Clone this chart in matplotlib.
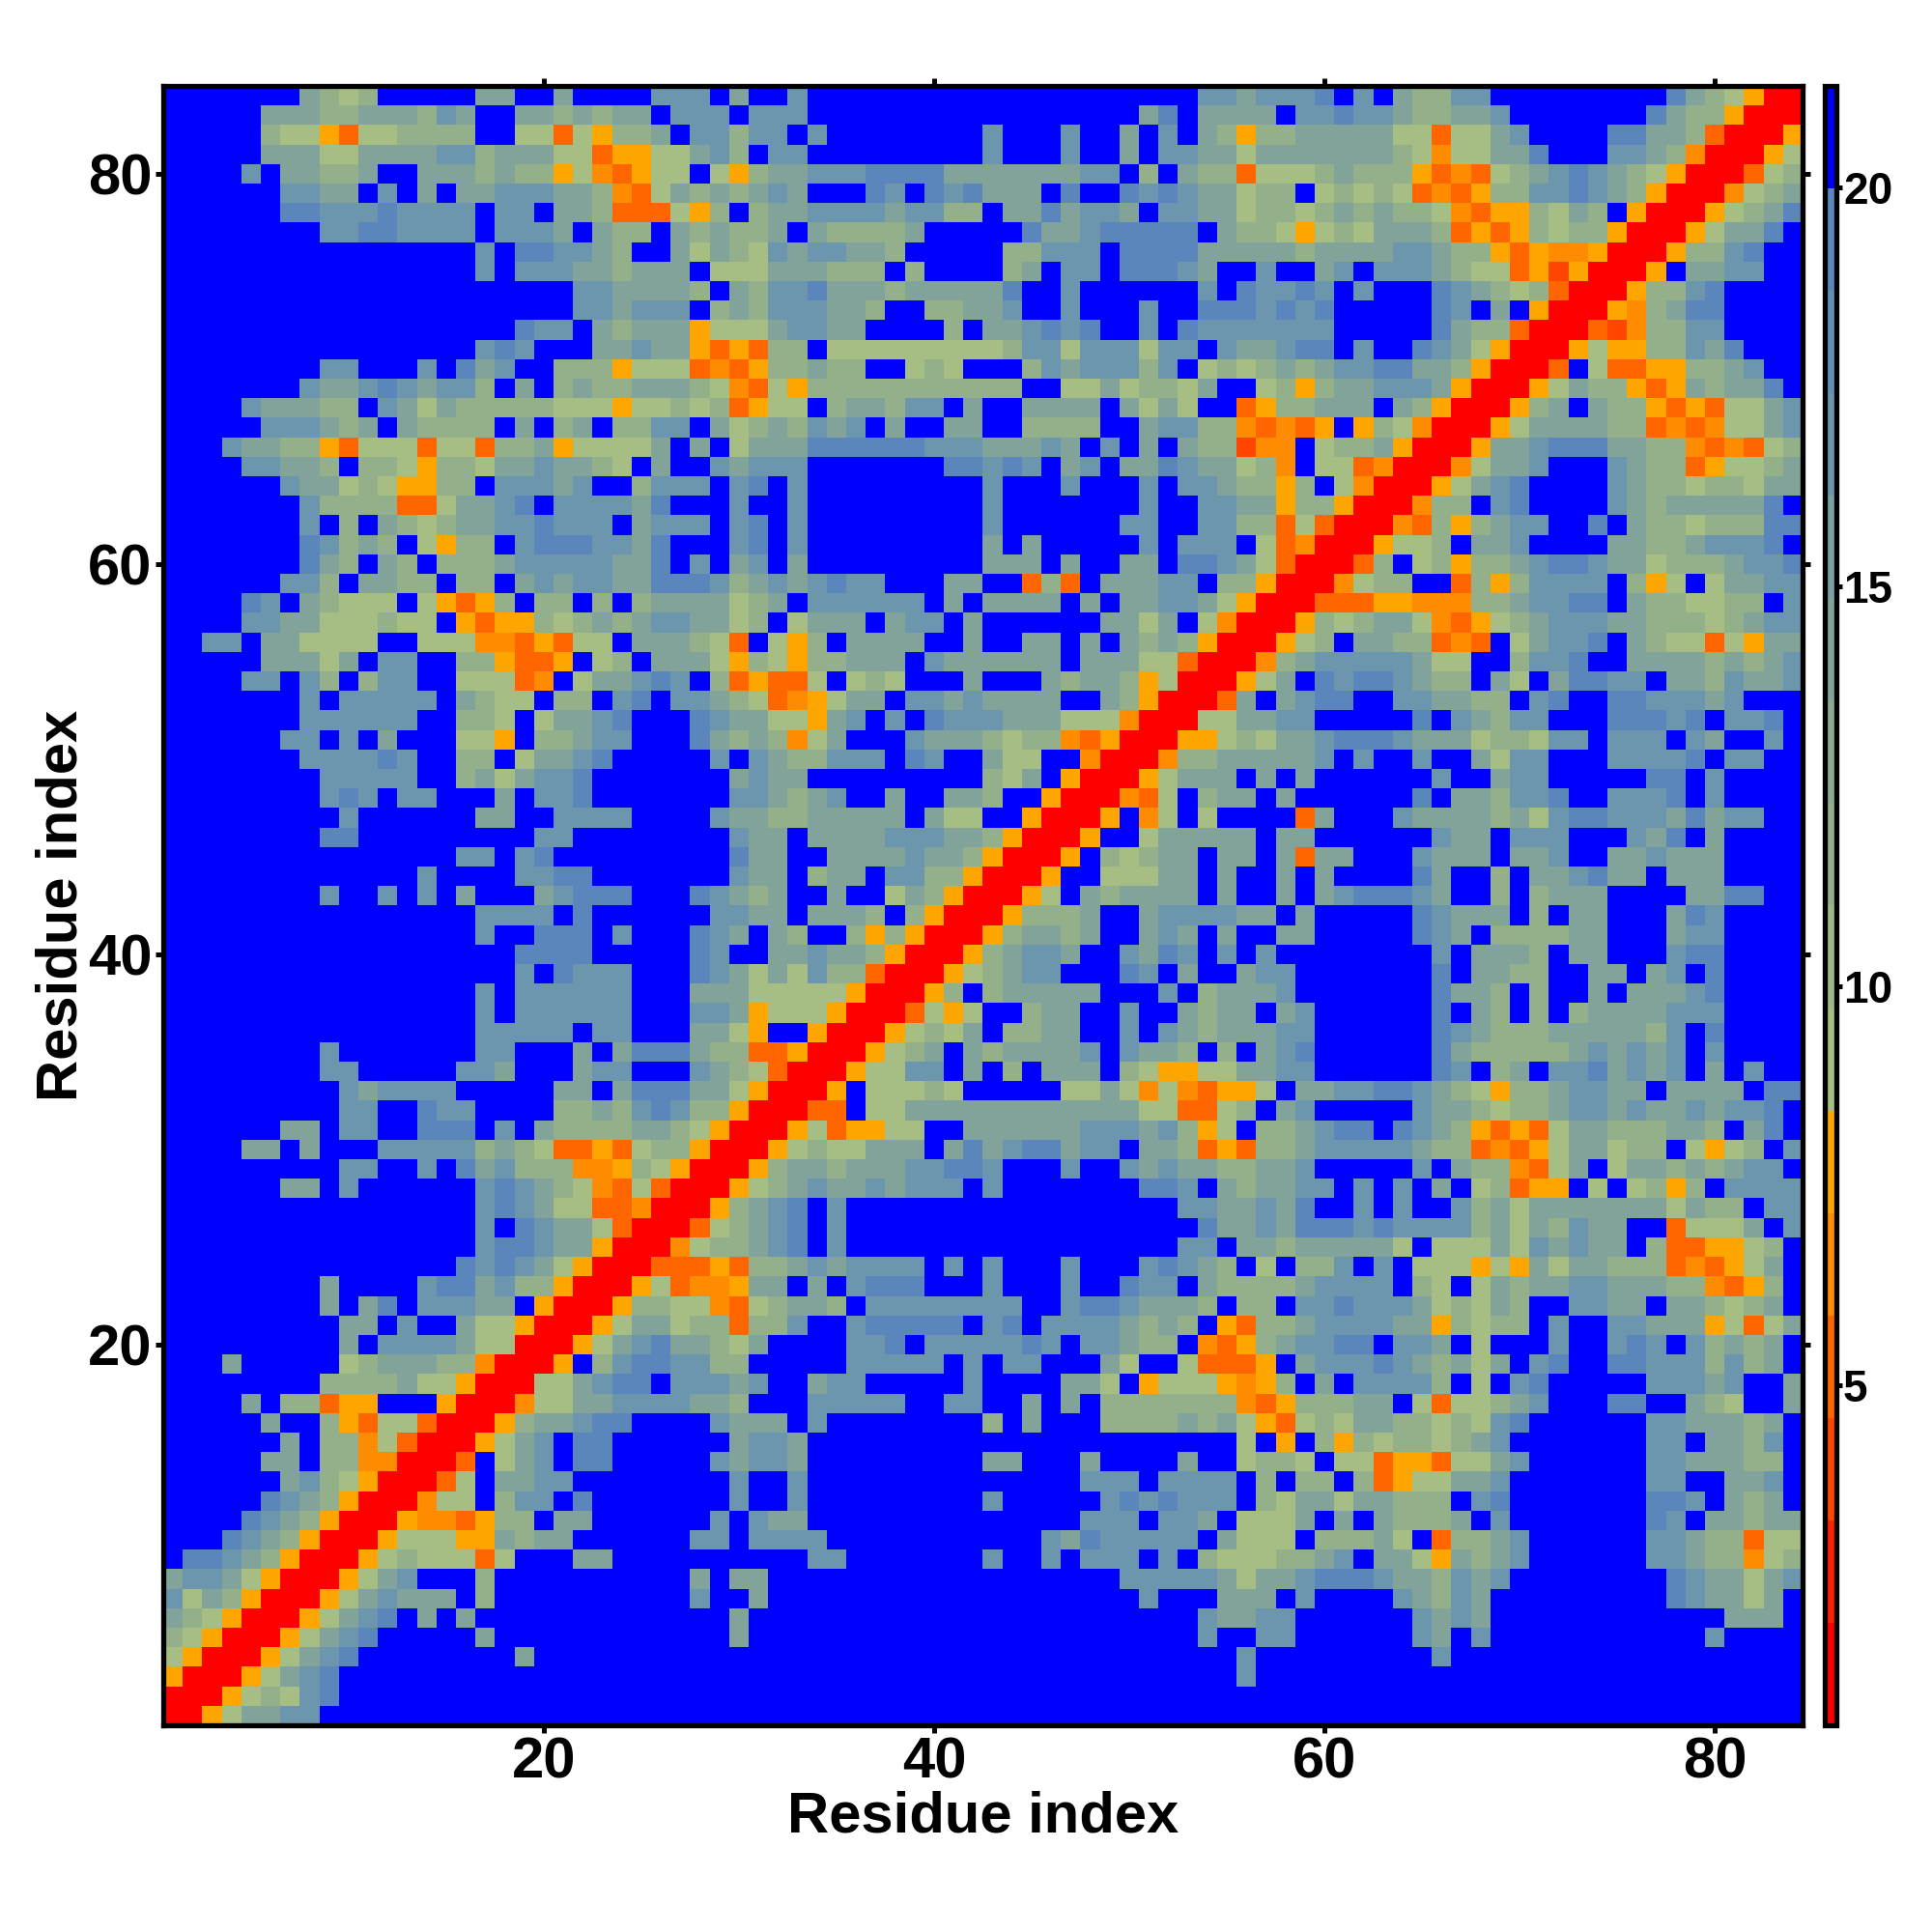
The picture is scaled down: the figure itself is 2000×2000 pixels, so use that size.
import numpy as np
import matplotlib
matplotlib.use('Agg')
import matplotlib.pyplot as plt
from matplotlib.colors import ListedColormap, BoundaryNorm

plt.rcParams['font.family'] = ['Liberation Sans', 'DejaVu Sans']
plt.rcParams['font.weight'] = 'bold'

# one letter per cell, top row of the map first (residue 84 down to 1)
# r=red e=orange-red d=dark orange o=orange y=amber l,m,g,s,b=green to steel .=blue
cols_1_28 = [
    ".......gmlm.....gg..g....sss",
    ".....gggmmgggmsg..ggmgmgg.ss",
    ".....mllydllmmmm..lldlymmg.s",
    ".....gggllggggssmgggll" "dyyllg",
    "....s.ggmmg..gggmgmmylodyll.",
    "......ssgg.s.g.ggsssggmodlgm",
    "......bbsssbssss.ss.ggmdddly",
    "........ssbbssss.sssg.gmm.gm",
    "................s.bbssgm..gl",
    "................s.sssggmggg.",
    ".....................ssggggm",
    ".....................ssgsss.",
    "..................bss.gmgggy",
    "................sbs...ggsggy",
    "........ss...s.bgs..mmmyllld",
    ".......sggsbsgssm.g.mgmmgggm",
    "....sgggmm.sglgmmmmmlllyllml",
    ".....sssgmg.gmmmm.g.mg.mmss.",
    "...sggmmydllldlldmmgyllllg.g",
    "....ssggm.mmlymmlggsggml.g..",
    "......sgglmlyymm.sssgs..msss",
    ".......smmmmddlggsb.ssssgb..",
    ".......s.m.gmlmggssbsss.gsss",
    ".......bsmgm.lymm.sbbbssgb..",
    ".......bgm.gm.mmmgsssssggb.s",
    "......ssm.ggmm.mm.gsgssggbbb",
    "....bs.gmlll.lydym.mm.m.mggg",
    "....ssgglllmll.ydyymlmgmgssg",
    "..ss.ggllll..lllood" "ydll.gggm",
    ".....ggglg.ss..mmyddy.lm.ggg",
    "....ss.sm.mss..llldo.lggsbs.",
    ".......s.sssss.gmll.mm.sb.ss",
    ".......ssssss..mml.lggsb...b",
    "......ss.s.g...lly.mmgss...b",
    ".......ssssbs..mm.lggsb.....",
    "........sssss..mglgssb......",
    "........sbs.ss...g.ssb......",
    ".........s......gg..ssss....",
    "........bb.........ss.......",
    "...............ss.sb........",
    ".............s....ssbb......",
    "........s..s.s.g...gsbbb...b",
    "................ssss.b......",
    "................s..bbb.s...b",
    "..................bbbb.....b",
    "..................s.bsss...b",
    "................s.ssssss...g",
    "................s.ssssss...s",
    "................sssss.ss...g",
    "........s.......ss...g.gbbbg",
    "........ss.....ssg...gss...s",
    ".........sgssss.....gg.gbbbg",
    ".........ss..bss....mmgmsbsm",
    "......gg.ss..bbb.s.gmmmmggml",
    "....gg.g...sssssmgmlddydlmmy",
    ".........ss..s.bgsmmmooymlyr",
    "......gg.s......sbsgmlodldrr",
    "................sbsgllddorrr",
    "................s.bsggldrrrd",
    "................sbbsggyrrrol",
    "...............bsbsglyrrrddd",
    "........g....sbbgsmmyrrryldo",
    "........g.gb.sssgg.yrrrymmll",
    ".........gg.s..gllyrrrylgglm",
    ".........g.ssssgllrrrylgsbgg",
    "...g.....lmgggmmorrry.msbbss",
    "........mmmmgllyrrrllgsbb.ss",
    "....g.mmdyy...yrrrollggssssg",
    ".....g..mydlldrrrymggsbb....",
    "......g.mmoldrrrylgs.bb.....",
    ".....gg.mmoorrrd.lgs.bb.....",
    "......gsmlyrrrdl.ggss.......",
    ".....bsgmyrrroll.mss.b......",
    "....bsgmyrrryoodymm.gg......",
    "...bsgmyrrrylllyygmgg......s",
    ".bbsgmyrrrylmllldl...gg.....",
    "gssglyrrrylgs...m..........g",
    "slgmyrrrylgsggg.m..........s",
    "gmlyrrrylgsb.g.g............",
    "mlyrrrylgsb.....g...........",
    "lyrrrylgsb........g.........",
    "yrrrylgsb...................",
    "rrrylmlsb...................",
    "rrylggss....................",
]

cols_29_56 = [
    ".g..s....................ssg",
    "s.sss.................gb.ggg",
    "smss.s........s...s..g.s.gmy",
    "sm.ss.........s...s..g.ssggl",
    "lymggsssbbbbgggggggss.m.gmmd",
    "gmgsg...bs.bsbggg.b..bsbsggl",
    "m.mggssssgssmm.ggbgssg.ssggl",
    "gmmg.gmmmmg.....bggsbbbbb.gm",
    "gmlsgssggm.....mmsss.bbbbggg",
    "lllgggmmm.m....mg.ss.bbbsg..",
    ".gmssbgggmgggggb..s......s.b",
    "mgmsssggm..mmggs..s...s..bbb",
    "lllgssgg....m.ggsbsb..s.bsss",
    "dydmm.lllllllllmsslssslss.sg",
    "odymmgmm..lml...msgsssms.lml",
    "lodlymmmmmmmmmmm..llglmmlg..",
    "mdyll.mggmss.g..gggg.glgl..d",
    "glmgmsgs.g..gg..mmmm..gssmmo",
    ".lgggbbbbbbsssgggsg.s.g.gmme",
    "sgsss.......bbsbs.gs.ggbsggl",
    ".sb.s.........s...s...s.ssgm",
    ".s..s.........s.......s..ssg",
    ".sb.s.........s......ss..ssm",
    ".sb.s.........g.g.....s.sss.",
    ".gs.g.........ggg.g..gg.bbsg",
    "smgsgsbss...gg..dmd.gggss.mm",
    "glmg.ssssss.g.gggg.g.ggssgly",
    "glm.lggg.gss.g......gglg.lor",
    "ld.lym.gggg..g..gg.g.gmgmyrr",
    "lymlymmggg.sgggggg.ggglldrrr",
    "mdyddl.lml...g...gmggmylrrry",
    "gmldoylgg.ssgsgggg..gmyrrrdg",
    "sggllygs.s.bsssggglllorrrllg",
    "gmgmolg...sgggmlmmodyrrryylm",
    "s.sgmmsss.bs..gll..orrrommgg",
    ".gsgg.........mlg.yrrrylggg.",
    ".ssgmgs..g..ggm..yrrrodl.mgg",
    "sggmmggggg.gll..yrrry.ol.l..",
    ".sgg.ggggsssggmyrrry..lggggg",
    ".bgg..ggggsggmyrrry.mlmgg.gg",
    ".sgg.mgg.ssmmyrrry..lllgg.g.",
    "sgmg..g..lgmyrrryl.gmgggg.g.",
    "ssgg.gggm.myrrrymmmg..gssssg",
    "sg.gm..mymyrrrymggmg..gsg.g.",
    "s..ggsggmyrrrymgssg..sgbs.s.",
    "sglglsmmdrrrylmgss...bs.g..g",
    "gglllllyrrrym.mggggg...s.mgg",
    "sgylllyrrrdlyl..mgg..s..gmgg",
    "gly..yrrrylmlg.mmgg..s.sgmgg",
    "mmddyrrrylmg.gmggggs.sggm.m.",
    "gmldrrryllss.g.m.ggg.mlyyllg",
    "glyrrry.lllml.....llglolodyy",
    "myrrrdd.llggggggggggggllddlm",
    "yrrryldyyll..ggggggsssgsmyl.",
    "rrrylmllggg.gbgsbbgss.ggmdyd",
    "rrymggmgggssbbs...s..sgsggmm",
    "rylmgsggsgsss.s.......bbs.gm",
    "ymgsb.s.................ssgg",
    "lmgsb.s..................bgg",
    "mmgsb.s.................ss.g",
    "ydmmgsgssss.s.s...s...sbsgm.",
    "oygg.g.sbbb...s...s..bss.gmm",
    "odlmggm.ssssssss..sbbsgggm.m",
    "mdmms..sbbbbb.sb.ssssgmgm.yd",
    "mlg....ssb.sssssbs.ssgmm.ody",
    "mm.....sssss.s.ss...gl..lddd",
    "sgs..gss.....s....ggl.ylllyo",
    "gm...sssss..ss..g.g.mmmmmmmo",
    "sggg.s........m.g...mmmmgmgl",
    ".gssg......................l",
    "sgssg.........gg...g....g..l",
    ".s..s..............sss.ssss.",
    ".s..s.........s.....sbsbsss.",
    "s.sgg..............sss.ssg.l",
    "s.ssss...........sgbsssss.gl",
    ".....ss.......s..s.sss.s.mll",
    ".gg..................sssssgl",
    "..g...................s...gg",
    ".g.......................sgg",
    ".g.......................s..",
    "...........................s",
    "...........................s",
    "............................",
    "............................",
]

cols_57_84 = [
    "sssb.s.gmmss.........bgmlyrr",
    "g.ssbssgmmggs.......bgmmyrrr",
    "mmgggggllDllgs....bbggmdrrry".replace("D", "d"),
    "gggggggmlollggb...ssgmorrryl",
    "lllmgmmmydodlmgsbsgmlyrrrdlm",
    "mm.lmlmldodymmssbsgmyrrrolmg",
    "mmlmgmgmmlodyymlgm.yrrrylmgb",
    "mlylmlgggmdydymlmmyrrrylggb.",
    "ggmggggssgmmydyooyrrrymmsb..",
    "s..gs.sssgmlldyeyrrry.ggss..",
    "ssbs.s...bsgmlmdrrrymmsb....",
    "sbsb.....bs.g.yrrryomgbb....",
    "ssss.....bgmmdrrrdeommss....",
    "gsbb.s..bsglyrrrylyymmsgb...",
    "mgmgssbbggmyrrrd.lddyymmgs..",
    "lmymggsssgyrrrylgmmydygmggb.",
    "ymmggg.gmyrrrymg.gmmydydllgs",
    "dody.ymlorrrylggggmmdodollgs",
    "oo.lmmgyrrryggsbbbggmmododlm",
    "mo.lldorrrolggs...sgmmdyllmg",
    "mym.lorrrylgsb....sgmmlmmlgg",
    "gymmyrrromm.sb....sgmgggggb.",
    "mdldrrrodmymgss..b.gmmlmmmbb",
    "ldorrryllm.ggs....ggmmgsssb.",
    "ldrrrdm.lmymmgsbbsgglmmmgssb",
    "yrrrolmm..dmymssss.myl.lggss",
    "rrrdddyyooommgssbb.gmmllmm.s",
    "rrymlmgglodylmgsssggmmmlmgss",
    "rylm.ggmmdod.lgssb.gmlldlygg",
    "omgsssssgll..mssb..ggggmgmgs",
    "lg.bsbbsgmm.gl.gbbss.ggmsggs",
    ".gsbb..ssggmm.sb..bbsssgs...",
    "gss.....b.sgmss...bbbsb.ssb.",
    "lggsbbbsggglmmlss.sss.sg..s.",
    "gggs.s..s..glss...ssssb.ss..",
    "g.g......s..gss.....bb.s....",
    ".g......b.ggmssb..sssb.s....",
    "..dg...sggggmglsbbsssgbgss..",
    ".gg......sgg.sss...sgb.g....",
    ".gdgg...sggg.ggs..ggsggg....",
    ".g.g....bg..m.ggsbgg.ggg....",
    ".g.gsbbbsg..m.mggg....ggbb..",
    "g.g.....bsggg.m.gg...gbs....",
    ".gg.....bsg.mmmmgg...gss....",
    "s........s.gggm.gg...sbb....",
    "ss.......b.ggmm..gg.gs.b....",
    "gs.......bggm.m..g.gggsb....",
    ".gs......b.gm.m.mggggsss....",
    "gss......bsgmmmgggggms.b....",
    "gsb......bgmmmmmgsgsgs.s....",
    "gss......bs.mg.ssbgsgs.g.s..",
    "l.ggssbbsgmlymmgssgg.gggg.bb",
    ".gs.....sggmlmmgssgsggsgssb.",
    "mmgsbb.bsgmydydlggmmmggm.gb.",
    "mmgsssssgmmdodylgglmm.lylm.s",
    "ggs.....s.gmmodlg.lggmgmgss.",
    "ggss.s.s.g.lmdyy.l.lmym.ssss",
    "sgb..s.s..smglggggggglgmm.ss",
    "sgbbbsbssssmglgmsgg..dlllg.s",
    "gmgggggl.lllglsgsgg.mddyylm.",
    "l.mms.s.lllylyglggmmmdodylg.",
    "mmgssss.ml.lgmggssgggmmodym.",
    "m.ssbsssglmlgm..ssgg.ggmlmg.",
    "mmgssssggymlmm.s..ssgggyldlg",
    "mgssbb.ssg.l...s..sbs.smgmg.",
    "y.gsssbsgmglg.sb..bbsssmsmg.",
    "ym.g.ssssm.l.sb.....sssgs..g",
    "dymmmgg.ldllmgs...bb..gml..g",
    "ydlmlggmmlmlsb......ssgggmg.",
    ".y.mymlmmlmgs.......ss.ggms.",
    "mml.lldyydllgs......ssgggmm.",
    "m.mm.mdyllggs.......ss..ggs.",
    "mlgglggmmm.sb.......bbs.gmg.",
    "llg.g.gmmmg.s.......bs.ggmgg",
    "ll.mmmgl.dmmgs......ssgmmdll",
    "lmmgs.gglygmgs......ssgmmolm",
    "ggsbbbsggmsgs........bsgglgs",
    "g.s....sgmsg.........bsgglg.",
    "ss......sgsg............ggg.",
    "ss......sg.s...........s....",
    ".........s..................",
    "............................",
    "............................",
    "............................",
]

# value each letter stands for (distance)
level_value = {'r': 1.4, 'e': 4.0, 'd': 5.2, 'o': 6.5, 'y': 7.8, 'l': 9.0,
               'm': 11.6, 'g': 14.2, 's': 16.8, 'b': 19.3, '.': 20.6}

band_colors = ['#ff0000', '#ff2000', '#ff4500', '#ff6600', '#ff8c00', '#ffa500',
               '#a6bd84', '#9db786', '#94b08a', '#8baa92', '#82a39a', '#79a0a2',
               '#6b96ad', '#6290b4', '#5a86bb', '#0000ff']
band_edges = np.linspace(0.74, 21.27, 17)
cbar_ticks = [5, 10, 15, 20]
axis_ticks = [20, 40, 60, 80]

rows = []
for a, b, c in zip(cols_1_28, cols_29_56, cols_57_84):
    line = a.ljust(28, '.')[:28] + b.ljust(28, '.')[:28] + c.ljust(28, '.')[:28]
    rows.append([level_value[ch] for ch in line])
matrix = np.array(rows)

cmap = ListedColormap(band_colors)
norm = BoundaryNorm(band_edges, cmap.N)

fig = plt.figure(figsize=(20, 20), dpi=100)
ax = fig.add_axes([169 / 2000, 1 - 1786 / 2000, 1697 / 2000, 1697 / 2000])
im = ax.imshow(matrix, cmap=cmap, norm=norm, origin='upper', aspect='auto',
               extent=[0.5, 84.5, 0.5, 84.5], interpolation='nearest')

ax.set_xticks(axis_ticks)
ax.set_yticks(axis_ticks)
ax.tick_params(axis='both', length=6, width=3.6, top=True, right=True,
               labelsize=43, pad=2.5)
ax.set_xlabel('Residue index', fontsize=43, fontweight='bold')
ax.set_ylabel('Residue index', fontsize=43, fontweight='bold')
ax.xaxis.set_label_coords(0.5, -0.0395)
ax.yaxis.set_label_coords(-0.0457, 0.5)
for sp in ax.spines.values():
    sp.set_linewidth(3.8)

cax = fig.add_axes([1889 / 2000, 1 - 1786 / 2000, 12 / 2000, 1697 / 2000])
cb = fig.colorbar(im, cax=cax, spacing='proportional', ticks=cbar_ticks, drawedges=False)
cb.ax.tick_params(length=4, width=3.6, labelsize=33, pad=1)
cb.outline.set_linewidth(3.8)
cb.ax.minorticks_off()

fig.savefig('out.png', dpi=100)
